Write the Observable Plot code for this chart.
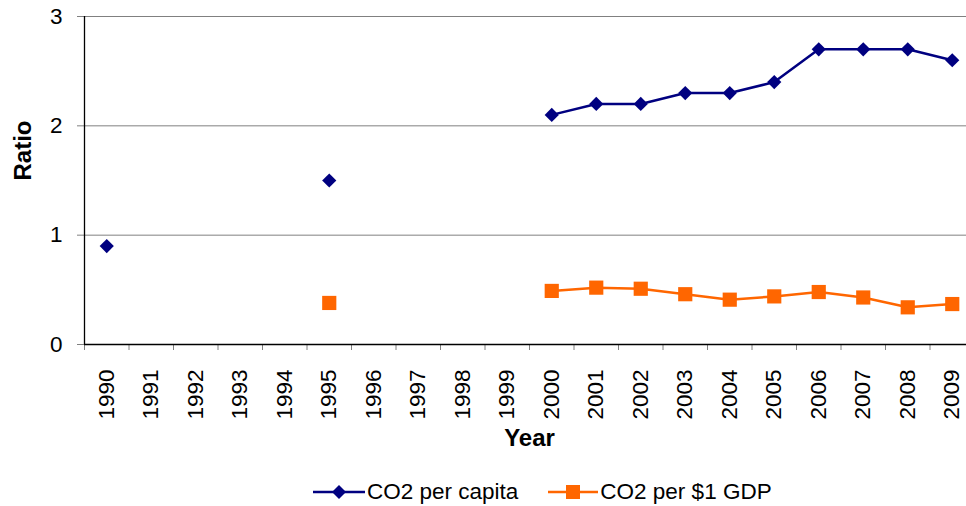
<!DOCTYPE html>
<html>
<head>
<meta charset="utf-8">
<script src="https://cdn.jsdelivr.net/npm/d3@7"></script>
<script src="https://cdn.jsdelivr.net/npm/@observablehq/plot@0.6"></script>
<style>
  html, body { margin: 0; padding: 0; background: #fff; overflow: hidden; }
  #wrap { position: relative; width: 966px; height: 506px; overflow: hidden; font-family: "Liberation Sans", Arial, sans-serif; }
  #wrap > svg { max-width: none !important; display: block; }
  #legend { position: absolute; left: 313px; top: 479px; height: 26px; display: flex; align-items: center; font-size: 22.5px; color: #000; white-space: nowrap; }
  .item { display: flex; align-items: center; }
  .item svg { display: block; }
  .item span { margin-left: 2px; }
</style>
</head>
<body>
<div id="wrap"></div>
<script>
const years = [1990, 1991, 1992, 1993, 1994, 1995, 1996, 1997, 1998, 1999, 2000, 2001, 2002, 2003, 2004, 2005, 2006, 2007, 2008, 2009];
const perCapita = [0.9, null, null, null, null, 1.5, null, null, null, null, 2.1, 2.2, 2.2, 2.3, 2.3, 2.4, 2.7, 2.7, 2.7, 2.6];
const perGDP = [null, null, null, null, null, 0.38, null, null, null, null, 0.49, 0.52, 0.51, 0.46, 0.41, 0.44, 0.48, 0.43, 0.34, 0.37];
const yTicks = [0, 1, 2, 3];
const seriesNames = ["CO2 per capita", "CO2 per $1 GDP"];
const seriesColors = ["#000080", "#FF6600"];

const rows = years.map((year, i) => ({year, perCapita: perCapita[i], perGDP: perGDP[i]}));
const boundaries = years.map(y => y - 0.5).concat([years[years.length - 1] + 0.5]);

const chart = Plot.plot({
  width: 974,
  height: 470,
  marginLeft: 84,
  marginRight: 0,
  marginTop: 16,
  marginBottom: 126,
  style: {fontFamily: "'Liberation Sans', Arial, sans-serif", fontSize: "22px", color: "#000", background: "#fff", maxWidth: "none"},
  x: {type: "linear", domain: [years[0] - 0.5, years[years.length - 1] + 0.5]},
  y: {domain: [0, 3]},
  marks: [
    Plot.ruleY(yTicks.filter(d => d > 0), {stroke: "#808080", strokeWidth: 1}),
    Plot.axisY(yTicks, {tickSize: 7, stroke: "#808080", strokeOpacity: 1, tickPadding: 15, fill: "#000", tickFormat: d => String(d), label: null, fontSize: 22.5}),
    Plot.axisX(boundaries, {tickSize: 6, stroke: "#808080", strokeOpacity: 1, tickFormat: () => "", label: null}),
    Plot.axisX(years, {tickSize: 0, tickRotate: -90, tickPadding: 25, tickFormat: d => String(d), label: null, fontSize: 22.5, fill: "#000"}),
    Plot.ruleX([years[0] - 0.5], {stroke: "#000", strokeWidth: 1.3}),
    Plot.ruleY([0], {stroke: "#000", strokeWidth: 1.3}),
    Plot.line(rows, {x: "year", y: "perCapita", stroke: seriesColors[0], strokeWidth: 2.5}),
    Plot.dot(rows, {x: "year", y: "perCapita", symbol: "diamond2", fill: seriesColors[0], stroke: "none", r: 6.4}),
    Plot.line(rows, {x: "year", y: "perGDP", stroke: seriesColors[1], strokeWidth: 2.5}),
    Plot.dot(rows, {x: "year", y: "perGDP", symbol: "square", fill: seriesColors[1], stroke: "none", r: 8}),
    Plot.text(["Ratio"], {frameAnchor: "left", dx: -61, rotate: -90, fontWeight: "bold", fontSize: 24, fill: "#000"}),
    Plot.text(["Year"], {frameAnchor: "bottom", dy: 101, fontWeight: "bold", fontSize: 24, fill: "#000"})
  ]
});
document.getElementById("wrap").appendChild(chart);

// Legend
const legend = document.createElement("div");
legend.id = "legend";
seriesNames.forEach((name, i) => {
  const item = document.createElement("div");
  item.className = "item";
  if (i > 0) item.style.marginLeft = "30px";
  const w = i === 0 ? 52 : 50;
  const marker = i === 0
    ? `<path d="M${w/2},3 L${w/2+7},10 L${w/2},17 L${w/2-7},10 Z" fill="${seriesColors[i]}"/>`
    : `<rect x="${w/2-7}" y="3" width="14" height="14" fill="${seriesColors[i]}"/>`;
  item.innerHTML = `<svg width="${w}" height="20"><line x1="0" x2="${w}" y1="10" y2="10" stroke="${seriesColors[i]}" stroke-width="2.5"/>${marker}</svg><span>${name}</span>`;
  legend.appendChild(item);
});
document.getElementById("wrap").appendChild(legend);
</script>
</body>
</html>
